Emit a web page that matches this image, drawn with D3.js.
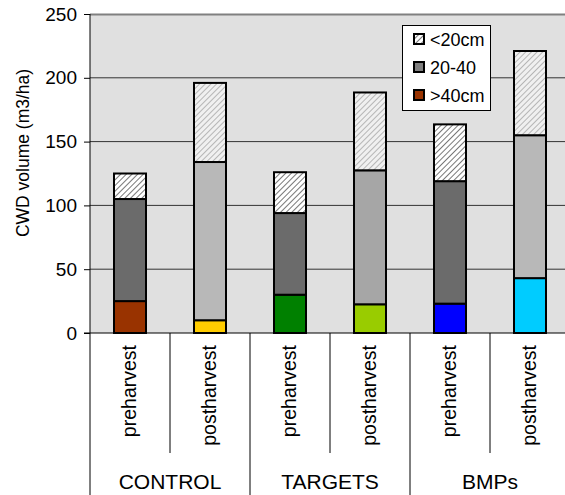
<!DOCTYPE html>
<html><head><meta charset="utf-8">
<script src="https://cdn.jsdelivr.net/npm/d3@7"></script>
<style>
html,body{margin:0;padding:0;background:#fff;}
svg text{font-family:"Liberation Sans",Arial,sans-serif;fill:#000;}
</style></head>
<body>
<svg id="chart" width="565" height="495"></svg>
<script>
// ---- data ----
const groups = ["CONTROL", "TARGETS", "BMPs"];
const periods = ["preharvest", "postharvest"];
const categories = ["CONTROL|preharvest","CONTROL|postharvest","TARGETS|preharvest","TARGETS|postharvest","BMPs|preharvest","BMPs|postharvest"];
const over40 = [25, 10, 30, 22.5, 23, 43];      // >40cm
const mid20to40 = [80, 124, 64, 105, 96, 112];  // 20-40
const under20 = [20, 62, 32, 61, 44.5, 66];     // <20cm
const over40Colors = ["#993300", "#FFCC00", "#008000", "#99CC00", "#0000FF", "#00CCFF"];
const midColors = ["#6B6B6B", "#B8B8B8", "#6B6B6B", "#A6A6A6", "#6B6B6B", "#B8B8B8"];
const yTicks = [0, 50, 100, 150, 200, 250];
const legendLabels = ["<20cm", "20-40", ">40cm"];

// ---- layout ----
const svg = d3.select("#chart");
const plotL = 90, plotR = 570, plotT = 14, plotB = 333;

const x = d3.scaleBand().domain(categories).range([plotL, plotR]).paddingInner(0.6).paddingOuter(0.3);
const y = d3.scaleLinear().domain([0, 250]).range([plotB, plotT]);

const defs = svg.append("defs");
function hatch(id, bg, line) {
  const p = defs.append("pattern").attr("id", id).attr("patternUnits", "userSpaceOnUse")
    .attr("width", 4).attr("height", 4).attr("patternTransform", "rotate(45)");
  p.append("rect").attr("width", 4).attr("height", 4).attr("fill", bg);
  p.append("line").attr("x1", 0).attr("y1", 0).attr("x2", 0).attr("y2", 4)
    .attr("stroke", line).attr("stroke-width", 1.6);
}
hatch("hatchDark", "#ffffff", "#555555");
hatch("hatchLight", "#f0f0f0", "#a8a8a8");

// plot background
svg.append("rect").attr("x", plotL).attr("y", plotT).attr("width", plotR - plotL).attr("height", plotB - plotT)
  .attr("fill", "#E0E0E0");

// gridlines
svg.append("g").selectAll("line").data(yTicks.filter(d => d > 0 && d < 250)).join("line")
  .attr("x1", plotL).attr("x2", plotR).attr("y1", d => y(d)).attr("y2", d => y(d))
  .attr("stroke", "#333").attr("stroke-width", 1);
svg.append("line").attr("x1", plotL).attr("x2", plotR).attr("y1", plotT + 0.5).attr("y2", plotT + 0.5)
  .attr("stroke", "#808080").attr("stroke-width", 2);

// bars
const stacks = categories.map((c, i) => {
  const a = over40[i], b = mid20to40[i], u = under20[i];
  const hatchId = i % 2 === 0 ? "hatchDark" : "hatchLight";
  return [
    {c, y0: 0, y1: a, fill: over40Colors[i]},
    {c, y0: a, y1: a + b, fill: midColors[i]},
    {c, y0: a + b, y1: a + b + u, fill: `url(#${hatchId})`}
  ];
}).flat();

svg.append("g").selectAll("rect").data(stacks).join("rect")
  .attr("x", d => x(d.c)).attr("width", x.bandwidth())
  .attr("y", d => y(d.y1)).attr("height", d => y(d.y0) - y(d.y1))
  .attr("fill", d => d.fill).attr("stroke", "#000").attr("stroke-width", 2);

// y axis
const yAxis = svg.append("g").attr("transform", `translate(${plotL},0)`)
  .call(d3.axisLeft(y).tickValues(yTicks).tickSize(6).tickPadding(7));
yAxis.select(".domain").remove();
yAxis.selectAll(".tick line").attr("stroke", "#000");
yAxis.selectAll(".tick text").attr("font-size", 19).attr("font-family", "Liberation Sans, Arial, sans-serif").attr("fill", "#000");
svg.append("line").attr("x1", plotL).attr("x2", plotL).attr("y1", plotT).attr("y2", 495)
  .attr("stroke", "#000").attr("stroke-width", 1);
// x axis line
svg.append("line").attr("x1", plotL - 6).attr("x2", 565).attr("y1", plotB).attr("y2", plotB)
  .attr("stroke", "#000").attr("stroke-width", 1.2);

// y title
svg.append("text").attr("transform", `translate(29,153) rotate(-90)`)
  .attr("text-anchor", "middle").attr("font-size", 17.5).text("CWD volume (m3/ha)");

// category dividers below axis
const step = x.step(), off = (step - x.bandwidth()) / 2;
categories.forEach((c, i) => {
  if (i === 0) return;
  const bx = x(c) - off;
  const isGroup = i % periods.length === 0;
  svg.append("line").attr("x1", bx).attr("x2", bx).attr("y1", plotB).attr("y2", isGroup ? 495 : 453)
    .attr("stroke", "#000").attr("stroke-width", 1);
});

// category labels
svg.append("g").selectAll("text").data(categories).join("text")
  .attr("transform", d => `translate(${x(d) + x.bandwidth() / 2 + 6},345) rotate(-90)`)
  .attr("text-anchor", "end").attr("font-size", 19.5).text(d => d.split("|")[1]);

// group labels
svg.append("g").selectAll("text").data(groups).join("text")
  .attr("x", (g, gi) => x(categories[gi * 2]) - off + step)
  .attr("y", 489).attr("text-anchor", "middle").attr("font-size", 21).text(g => g);

// legend
const lg = svg.append("g");
lg.append("rect").attr("x", 402.5).attr("y", 25.5).attr("width", 88).attr("height", 85)
  .attr("fill", "#fff").attr("stroke", "#000").attr("stroke-width", 1);
const legendFills = ["url(#hatchDark)", "#808080", "#993300"];
legendLabels.forEach((l, i) => {
  const cy = 39 + i * 28;
  lg.append("rect").attr("x", 414).attr("y", cy - 5).attr("width", 10).attr("height", 10)
    .attr("fill", legendFills[i]).attr("stroke", "#000").attr("stroke-width", 2);
  lg.append("text").attr("x", 430).attr("y", cy + 6.5).attr("font-size", 18).text(l);
});
</script>
</body></html>
